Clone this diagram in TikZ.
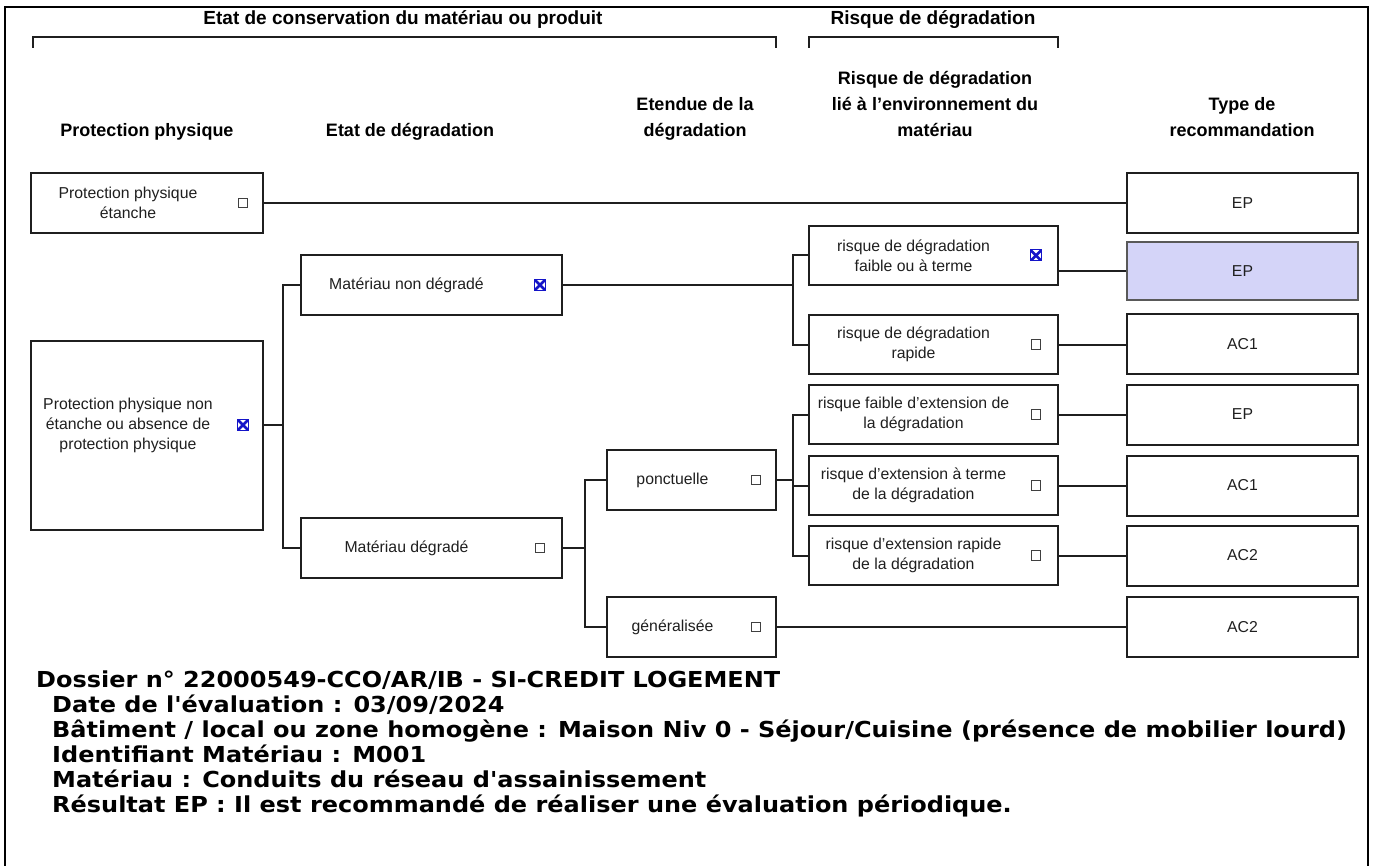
\documentclass[tikz,border=0pt]{standalone}
\usepackage{fontspec}
\setmainfont{Liberation Sans}
\newfontfamily\vfont[FakeStretch=1.09]{DejaVu Sans}
\usetikzlibrary{calc}
\definecolor{hilite}{RGB}{212,212,248}
\definecolor{chk}{RGB}{20,20,200}
\begin{document}
\begin{tikzpicture}[x=1pt,y=-1pt,
  box/.style={draw=black!88, line width=2pt, minimum width=#1, minimum height=60, inner sep=0},
  box/.default=232,
  btxt/.style={font=\fontsize{15.8}{20}\selectfont, align=center, inner sep=0, text=black!88},
  htxt/.style={font=\fontsize{18}{26}\selectfont\bfseries, align=center, inner sep=0, anchor=south, text depth=0pt},
  ttxt/.style={font=\fontsize{19}{22}\selectfont\bfseries, inner sep=0, anchor=base},
  ftxt/.style={font=\vfont\bfseries\fontsize{22}{25}\selectfont, inner sep=0, anchor=base west},
  cb/.style={draw=black!75, line width=1pt, minimum size=9.5, inner sep=0},
  cbx/.style={draw=chk, line width=1pt, minimum size=11, inner sep=0,
    path picture={\draw[chk, line width=2.6pt] (path picture bounding box.north west) -- (path picture bounding box.south east)
      (path picture bounding box.north east) -- (path picture bounding box.south west);}},
  conn/.style={line width=2pt, draw=black!88},
  brk/.style={line width=1.8pt, draw=black!88}
]
\useasboundingbox (0,0) rectangle (1375,866);
% outer frame
\draw[line width=2.5pt] (5,866) -- (5,7) -- (1368,7) -- (1368,866);

% titles and brackets
\node[ttxt] (t1) at (403,25) {Etat de conservation du matériau ou produit};
\node[ttxt] (t2) at (933,25) {Risque de dégradation};
\draw[brk] (33,48) -- (33,37) -- (776,37) -- (776,48);
\draw[brk] (809,48) -- (809,37) -- (1058,37) -- (1058,48);

% column headers
\node[htxt] (h1) at (147,137) {Protection physique};
\node[htxt] (h2) at (410,137) {Etat de dégradation};
\node[htxt] (h3) at (695,137) {Etendue de la\\dégradation};
\node[htxt] (h4) at (935,137) {Risque de dégradation\\lié à l'environnement du\\matériau};
\node[htxt] (h5) at (1242,137) {Type de\\recommandation};

% column 1
\node[box=232] (b1) at (147,203) {};
\node[btxt] (b1t) at ($(b1.center)+(-19,0)$) {Protection physique\\étanche};
\node[cb] (b1c) at ($(b1.east)+(-21,0)$) {};
\node[box=232, minimum height=189] (b2) at (147,435) {};
\node[btxt] (b2t) at ($(b2.center)+(-19,-10)$) {Protection physique non\\étanche ou absence de\\protection physique};
\node[cbx] (b2c) at ($(b2.east)+(-21,-10)$) {};

% column 2
\node[box=261] (mnd) at (431.5,285) {};
\node[btxt] (mndt) at ($(mnd.center)+(-25,0)$) {Matériau non dégradé};
\node[cbx] (mndc) at ($(mnd.east)+(-23,0)$) {};
\node[box=261] (md) at (431.5,548) {};
\node[btxt] (mdt) at ($(md.center)+(-25,0)$) {Matériau dégradé};
\node[cb] (mdc) at ($(md.east)+(-23,0)$) {};

% column 3
\node[box=169] (pon) at (691.5,480) {};
\node[btxt] (pont) at ($(pon.center)+(-19,0)$) {ponctuelle};
\node[cb] (ponc) at ($(pon.east)+(-21,0)$) {};
\node[box=169] (gen) at (691.5,627) {};
\node[btxt] (gent) at ($(gen.center)+(-19,0)$) {généralisée};
\node[cb] (genc) at ($(gen.east)+(-21,0)$) {};

% column 4
\node[box=249, minimum height=59] (r1) at (933.5,255.5) {};
\node[btxt] (r1t) at ($(r1.center)+(-20,0)$) {risque de dégradation\\faible ou à terme};
\node[cbx] (r1c) at ($(r1.east)+(-23,0)$) {};
\node[box=249, minimum height=59] (r2) at (933.5,344.5) {};
\node[btxt] (r2t) at ($(r2.center)+(-20,0)$) {risque de dégradation\\rapide};
\node[cb] (r2c) at ($(r2.east)+(-23,0)$) {};
\node[box=249, minimum height=59] (r3) at (933.5,414.5) {};
\node[btxt] (r3t) at ($(r3.center)+(-20,0)$) {risque faible d'extension de\\la dégradation};
\node[cb] (r3c) at ($(r3.east)+(-23,0)$) {};
\node[box=249, minimum height=59] (r4) at (933.5,485.5) {};
\node[btxt] (r4t) at ($(r4.center)+(-20,0)$) {risque d'extension à terme\\de la dégradation};
\node[cb] (r4c) at ($(r4.east)+(-23,0)$) {};
\node[box=249, minimum height=59] (r5) at (933.5,555.5) {};
\node[btxt] (r5t) at ($(r5.center)+(-20,0)$) {risque d'extension rapide\\de la dégradation};
\node[cb] (r5c) at ($(r5.east)+(-23,0)$) {};

% column 5
\node[box=231, btxt, draw=black!88, line width=2pt] (ep1) at (1242.5,203) {EP};
\node[box=231, btxt, draw=black!65, line width=2pt, fill=hilite, minimum height=58] (ep2) at (1242.5,271) {EP};
\node[box=231, btxt, draw=black!88, line width=2pt] (ac1a) at (1242.5,344) {AC1};
\node[box=231, btxt, draw=black!88, line width=2pt] (ep3) at (1242.5,414.5) {EP};
\node[box=231, btxt, draw=black!88, line width=2pt] (ac1b) at (1242.5,485.5) {AC1};
\node[box=231, btxt, draw=black!88, line width=2pt] (ac2a) at (1242.5,555.5) {AC2};
\node[box=231, btxt, draw=black!88, line width=2pt] (ac2b) at (1242.5,627) {AC2};

% connectors
\draw[conn] (b1.east) -- (ep1.west);
\coordinate (j1) at (283,425);
\draw[conn] (b2c -| b2.east) -- (j1);
\draw[conn] (mnd.west) -- (mnd.west -| j1) -- (md.west -| j1) -- (md.west);
\coordinate (j2) at (793,285);
\draw[conn] (mnd.east) -- (j2);
\draw[conn] (r1.west) -- (r1.west -| j2) -- (r2.west -| j2) -- (r2.west);
\draw[conn] (ep2.west -| r1.east) -- (ep2.west);
\draw[conn] (r2.east) -- (r2.east -| ac1a.west);
\coordinate (j3) at (585,548);
\draw[conn] (md.east) -- (j3);
\draw[conn] (pon.west) -- (pon.west -| j3) -- (gen.west -| j3) -- (gen.west);
\coordinate (j4) at (793,480);
\draw[conn] (pon.east) -- (j4);
\draw[conn] (r3.west) -- (r3.west -| j4) -- (r5.west -| j4) -- (r5.west);
\draw[conn] (r4.west -| j4) -- (r4.west);
\draw[conn] (r3.east) -- (r3.east -| ep3.west);
\draw[conn] (r4.east) -- (r4.east -| ac1b.west);
\draw[conn] (r5.east) -- (r5.east -| ac2a.west);
\draw[conn] (gen.east) -- (ac2b.west);

% footer
\node[ftxt] (f1) at (36,687) {Dossier n° 22000549-CCO/AR/IB - SI-CREDIT LOGEMENT};
\node[ftxt] (f2) at (52,712) {Date de l'évaluation : 03/09/2024};
\node[ftxt] (f3) at (52,737) {Bâtiment / local ou zone homogène : Maison Niv 0 - Séjour/Cuisine (présence de mobilier lourd)};
\node[ftxt] (f4) at (52,762) {Identifiant Matériau : M001};
\node[ftxt] (f5) at (52,787) {Matériau : Conduits du réseau d'assainissement};
\node[ftxt] (f6) at (52,812) {Résultat EP : Il est recommandé de réaliser une évaluation périodique.};
\end{tikzpicture}
\end{document}
